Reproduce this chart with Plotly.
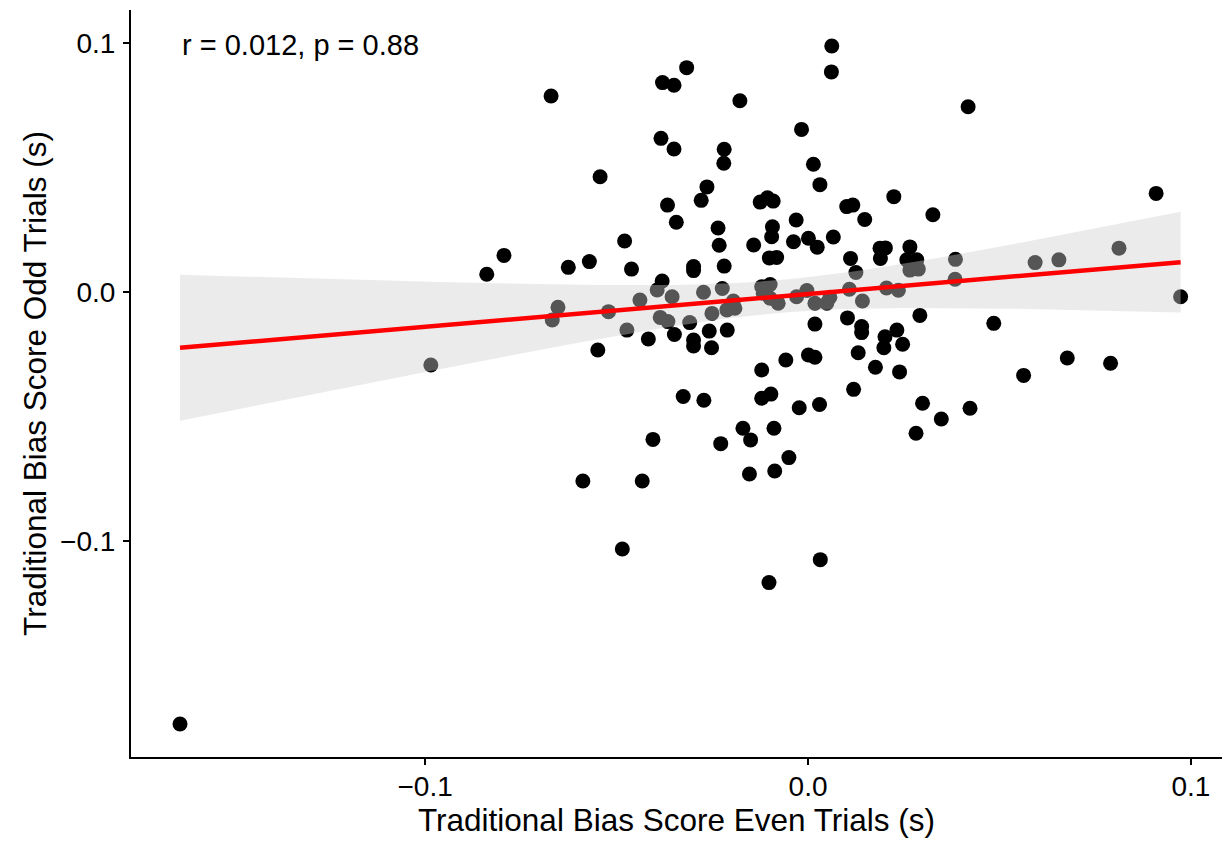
import numpy as np
import plotly.graph_objects as go

# Traditional bias score (s), split-half: even trials vs odd trials, one point per participant
even_trials = [
    -0.1640, -0.0985, -0.0839, -0.0794, -0.0671, -0.0668, -0.0653, -0.0626, -0.0571, -0.0543,
    -0.0588, -0.0549, -0.0521, -0.0485, -0.0479, -0.0461, -0.0439, -0.0433, -0.0417, -0.0405,
    -0.0473, -0.0384, -0.0380, -0.0350, -0.0317, -0.0350, -0.0367, -0.0344, -0.0381, -0.0394,
    -0.0355, -0.0386, -0.0366, -0.0349, -0.0326, -0.0272, -0.0309, -0.0299, -0.0299, -0.0299,
    -0.0299, -0.0279, -0.0264, -0.0273, -0.0258, -0.0252, -0.0251, -0.0235, -0.0232, -0.0219,
    -0.0219, -0.0220, -0.0178, -0.0224, -0.0195, -0.0191, -0.0212, -0.0211, -0.0228, -0.0170,
    -0.0150, -0.0153, -0.0142, -0.0125, -0.0106, -0.0091, -0.0093, -0.0095, -0.0101, -0.0082,
    -0.0121, -0.0099, -0.0117, -0.0099, -0.0078, -0.0121, -0.0121, -0.0097, -0.0089, -0.0087,
    -0.0102, -0.0058, -0.0050, -0.0038, -0.0031, -0.0030, -0.0003, -0.0023, -0.0017, 0.0001,
    0.0014, 0.0024, 0.0018, 0.0018, 0.0001, 0.0018, 0.0031, 0.0030, 0.0032, 0.0049,
    0.0057, 0.0062, 0.0061, 0.0066, 0.0101, 0.0117, 0.0111, 0.0108, 0.0125, 0.0103,
    0.0119, 0.0131, 0.0140, 0.0140, 0.0142, 0.0148, 0.0176, 0.0188, 0.0202, 0.0189,
    0.0205, 0.0236, 0.0201, 0.0198, 0.0224, 0.0232, 0.0239, 0.0247, 0.0266, 0.0258,
    0.0284, 0.0266, 0.0288, 0.0292, 0.0299, 0.0282, 0.0326, 0.0348, 0.0385, 0.0384,
    0.0418, 0.0423, 0.0485, 0.0563, 0.0593, 0.0655, 0.0677, 0.0790, 0.0812, 0.0909,
    0.0973,
]
odd_trials = [
    -0.1735, -0.0293, 0.0071, 0.0147, 0.0787, -0.0112, -0.0061, 0.0099, 0.0122, 0.0463,
    -0.0759, -0.0233, -0.0079, -0.1032, 0.0205, 0.0092, -0.0032, -0.0759, -0.0189, -0.0592,
    -0.0153, 0.0617, 0.0841, 0.0830, 0.0901, 0.0574, 0.0349, 0.0280, 0.0044, 0.0008,
    -0.0019, -0.0102, -0.0119, -0.0171, -0.0420, -0.0435, -0.0123, -0.0193, -0.0217, 0.0102,
    0.0086, 0.0368, 0.0422, -0.0001, -0.0157, -0.0224, -0.0086, 0.0257, 0.0188, 0.0104,
    0.0573, 0.0517, 0.0768, 0.0014, -0.0036, -0.0065, -0.0072, -0.0153, -0.0609, -0.0547,
    -0.0594, -0.0731, 0.0189, 0.0361, 0.0378, 0.0365, 0.0262, 0.0222, 0.0137, 0.0139,
    0.0021, 0.0030, -0.0005, -0.0025, -0.0045, -0.0313, -0.0427, -0.0410, -0.0547, -0.0719,
    -0.1167, -0.0273, -0.0665, 0.0202, 0.0289, -0.0019, 0.0006, -0.0465, 0.0653, 0.0216,
    0.0513, 0.0180, -0.0045, -0.0129, -0.0253, -0.0262, 0.0431, -0.0452, -0.1075, -0.0045,
    -0.0021, 0.0988, 0.0884, 0.0221, 0.0343, 0.0349, 0.0135, 0.0011, 0.0078, -0.0104,
    -0.0391, -0.0244, -0.0139, -0.0163, -0.0036, 0.0291, -0.0302, 0.0176, 0.0177, 0.0135,
    0.0016, 0.0007, -0.0180, -0.0224, 0.0383, -0.0153, -0.0321, -0.0210, 0.0181, 0.0129,
    0.0129, 0.0088, 0.0092, -0.0094, -0.0447, -0.0567, 0.0310, -0.0510, 0.0131, 0.0051,
    0.0744, -0.0467, -0.0126, -0.0335, 0.0118, 0.0129, -0.0265, -0.0286, 0.0176, 0.0396,
    -0.0019,
]

x_ticks = [-0.1, 0.0, 0.1]
x_tick_labels = ["\u22120.1", "0.0", "0.1"]
y_ticks = [-0.1, 0.0, 0.1]
y_tick_labels = ["\u22120.1", "0.0", "0.1"]
stat_label = "r = 0.012, p = 0.88"

x = np.asarray(even_trials)
y = np.asarray(odd_trials)

# Ordinary least-squares fit with a 95% confidence band for the mean
n = len(x)
slope, intercept = np.polyfit(x, y, 1)
resid = y - (intercept + slope * x)
s2 = np.sum(resid ** 2) / (n - 2)
sxx = np.sum((x - x.mean()) ** 2)
t_crit = 1.976  # two-sided 95% quantile of t with n - 2 degrees of freedom
grid = np.linspace(x.min(), x.max(), 80)
fit = intercept + slope * grid
se = np.sqrt(s2 * (1.0 / n + (grid - x.mean()) ** 2 / sxx))
upper = fit + t_crit * se
lower = fit - t_crit * se

font_family = "Liberation Sans, Arial, sans-serif"

fig = go.Figure()
fig.add_trace(go.Scatter(
    x=x, y=y, mode="markers",
    marker=dict(color="black", size=15, line=dict(width=0)),
    hoverinfo="x+y", showlegend=False,
))
fig.add_trace(go.Scatter(
    x=np.concatenate([grid, grid[::-1]]),
    y=np.concatenate([upper, lower[::-1]]),
    mode="lines", fill="toself",
    fillcolor="rgba(207,207,207,0.41)",
    line=dict(width=0), hoverinfo="skip", showlegend=False,
))
fig.add_trace(go.Scatter(
    x=grid, y=fit, mode="lines",
    line=dict(color="#FF0000", width=4.5),
    hoverinfo="skip", showlegend=False,
))

fig.add_annotation(
    x=-0.164, y=0.0992, xref="x", yref="y",
    text=stat_label, showarrow=False,
    xanchor="left", yanchor="middle",
    font=dict(family=font_family, size=29, color="black"),
)

axis_common = dict(
    showgrid=False, zeroline=False,
    showline=True, linecolor="black", linewidth=2,
    ticks="outside", ticklen=6, tickwidth=2, tickcolor="black",
    tickfont=dict(family=font_family, size=28, color="black"),
)

fig.update_layout(
    width=1225, height=841,
    margin=dict(l=131, r=3, t=10, b=84),
    paper_bgcolor="white", plot_bgcolor="white",
    font=dict(family=font_family, color="black"),
    xaxis=dict(
        range=[-0.1768, 0.1081],
        tickvals=x_ticks, ticktext=x_tick_labels,
        ticklabelstandoff=-3,
        title=dict(text="Traditional Bias Score Even Trials (s)",
                   font=dict(family=font_family, size=31.5, color="black"),
                   standoff=4),
        **axis_common,
    ),
    yaxis=dict(
        range=[-0.18675, 0.11325],
        tickvals=y_ticks, ticktext=y_tick_labels,
        ticklabelstandoff=2,
        title=dict(text="Traditional Bias Score Odd Trials (s)",
                   font=dict(family=font_family, size=31.5, color="black"),
                   standoff=4),
        **axis_common,
    ),
)

fig.write_html("out.html")
